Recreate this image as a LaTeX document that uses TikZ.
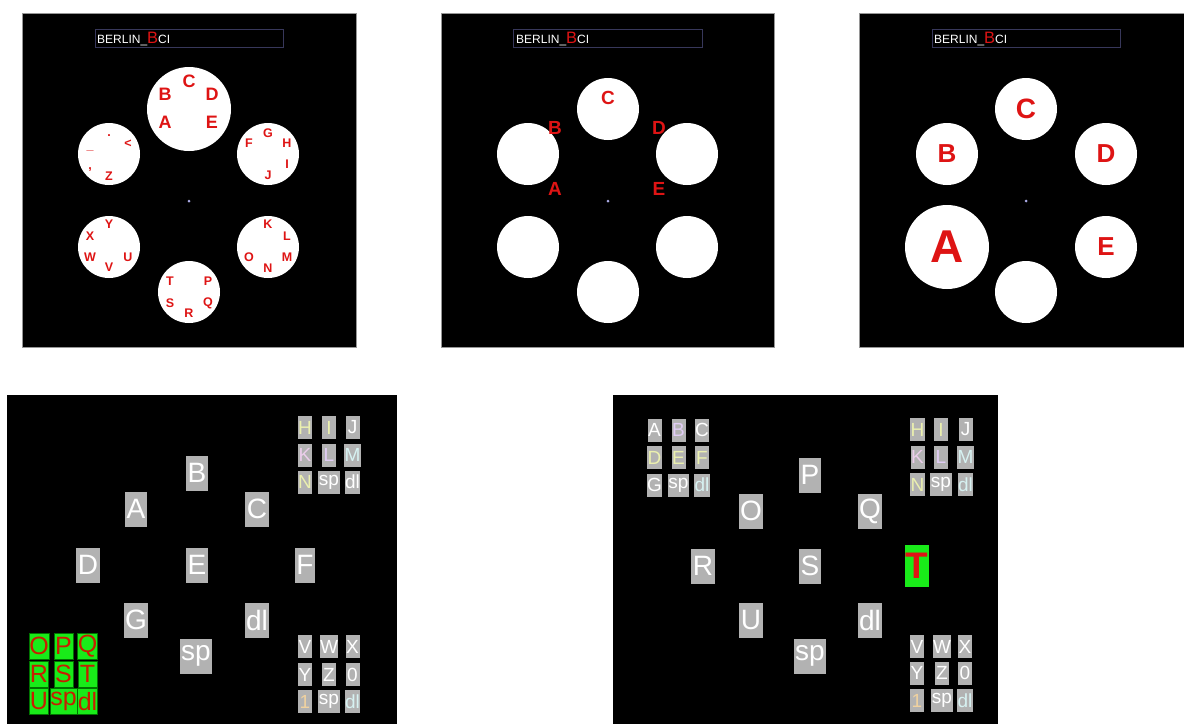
\documentclass[tikz,border=0pt]{standalone}
\usepackage{fontspec}
\setmainfont{Liberation Sans}
\newcommand\fsz[1]{\fontsize{#1}{#1}\selectfont}
\definecolor{keygray}{RGB}{178,178,178}
\definecolor{hexred}{RGB}{222,20,20}
\definecolor{barblue}{RGB}{55,55,90}
\definecolor{keygreen}{RGB}{25,235,25}
\definecolor{greentext}{RGB}{200,30,0}
\definecolor{dotblue}{RGB}{170,170,230}
\definecolor{framegray}{RGB}{150,150,150}
\definecolor{tyel}{RGB}{235,240,175}
\definecolor{tpink}{RGB}{235,205,235}
\definecolor{tlav}{RGB}{225,205,245}
\definecolor{tcyan}{RGB}{215,242,242}
\definecolor{torange}{RGB}{240,210,160}
\begin{document}
\begin{tikzpicture}[x=1pt,y=-1pt,
  panel/.style={fill=black,draw=framegray,line width=0.6pt},
  titlebar/.style={draw=barblue,line width=0.8pt},
  disc/.style={circle,fill=white,inner sep=0pt,minimum size=62pt},
  bigdisc/.style={circle,fill=white,inner sep=0pt,minimum size=84pt},
  fixdot/.style={circle,fill=dotblue,inner sep=0pt,minimum size=3pt},
  hexlet/.style={text=hexred,inner sep=0pt,font=\bfseries\fsz{#1}},
  titletext/.style={anchor=base west,inner sep=0pt,text=white,font=\fsz{12}},
  bigkey/.style={fill=keygray,text=white,font=\fsz{28},minimum height=35pt,inner xsep=1.5pt,inner ysep=0pt},
  smallkey/.style={fill=keygray,text=#1,font=\fsz{19},minimum width=14pt,minimum height=23pt,inner xsep=0.5pt,inner ysep=0pt},
  smallkey/.default=white,
  greenkey/.style={fill=keygreen,draw=green!45!black,line width=0.4pt,text=greentext,font=\fsz{25},minimum width=19pt,minimum height=26pt,inner xsep=0.3pt,inner ysep=0pt},
  targetkey/.style={fill=keygreen,text=hexred,font=\bfseries\fsz{37},minimum width=24pt,minimum height=42pt,inner xsep=0.5pt,inner ysep=0pt}
]
\fill[white] (0,0) rectangle (1184,724);
\useasboundingbox (0,0) rectangle (1184,724);

% ---------- top panels ----------
\draw[panel] (22,13) rectangle (356,347);
\draw[panel] (441,13) rectangle (774,347);
\draw[panel] (859,13) rectangle (1184,347);

\draw[titlebar] (95,29) rectangle (283,47);
\draw[titlebar] (513,29) rectangle (702,47);
\draw[titlebar] (932,29) rectangle (1120,47);
\node[titletext] (t1) at (97,43) {BERLIN\_{\color{hexred}\fsz{16.5}B}CI};
\node[titletext] (t2) at (516,43) {BERLIN\_{\color{hexred}\fsz{16.5}B}CI};
\node[titletext] (t3) at (934,43) {BERLIN\_{\color{hexred}\fsz{16.5}B}CI};

% panel 1
\node[bigdisc] (a1) at (189,109) {};
\node[disc] (a2) at (268,154) {};
\node[disc] (a3) at (268,247) {};
\node[disc] (a4) at (189,292) {};
\node[disc] (a5) at (109,247) {};
\node[disc] (a6) at (109,154) {};
\node[fixdot] (ad) at (189,201) {};
\foreach \t/\x/\y/\n in {C/189/81/c,B/165/94/b,D/212/94/d,A/165/122/a,E/212/122/e}
  \node[hexlet=18] (a1\n) at (\x,\y) {\t};
\foreach \t/\x/\y/\n in {F/249/143/f,G/268/133/g,H/287/143/h,I/287/164/i,J/268/175/j,
  K/268/224/k,L/287/236/l,M/287/257/m,N/268/268/n,O/249/257/o,
  P/208/281/p,Q/208/303/q,R/189/313/r,S/170/303/s,T/170/281/t,
  U/128/257/u,V/109/267/v,W/90/257/w,X/90/236/x,Y/109/224/y,
  Z/109/176/z,</128/144/lt,./109/136/dot,{,}/90/170/comma}
  \node[hexlet=12.5] (a1\n) at (\x,\y) {\t};
\node[hexlet=12.5] (a1us) at (90,150) {\_};

% panel 2
\node[disc] (b1) at (608,109) {};
\node[disc] (b2) at (687,154) {};
\node[disc] (b3) at (687,247) {};
\node[disc] (b4) at (608,292) {};
\node[disc] (b5) at (528,247) {};
\node[disc] (b6) at (528,154) {};
\node[fixdot] (bd) at (608,201) {};
\foreach \t/\x/\y/\n in {C/608/98/c,B/555/128/b,D/659/128/d,A/555/189/a,E/659/189/e}
  \node[hexlet=19] (b\n) at (\x,\y) {\t};

% panel 3
\node[disc] (c1) at (1026,109) {};
\node[disc] (c2) at (1106,154) {};
\node[disc] (c3) at (1106,247) {};
\node[disc] (c4) at (1026,292) {};
\node[bigdisc] (c5) at (947,247) {};
\node[disc] (c6) at (947,154) {};
\node[fixdot] (cd) at (1026,201) {};
\node[hexlet=28] (cc) at (c1) {C};
\node[hexlet=26] (cdl) at (c2) {D};
\node[hexlet=26] (ce) at (c3) {E};
\node[hexlet=46] (ca) at (c5) {A};
\node[hexlet=26] (cb) at (c6) {B};

% ---------- bottom panels ----------
\fill[black] (7,395) rectangle (397,724);
\fill[black] (613,395) rectangle (998,724);

% panel 4
\foreach \t/\x/\y/\n in {B/197/473/b,A/136/509/a,C/257/509/c,D/88/565/d,E/197/565/e,F/305/565/f,G/136/620/g,dl/257/620/dl,sp/196/656/sp}
  \node[bigkey] (d\n) at (\x,\y) {\t};
\foreach \t/\x/\y/\n/\c in {H/305/427.5/h/tyel,I/329/427.5/i/tyel,J/352.5/427.5/j/white,
  K/305/455/k/tpink,L/329/455/l/tlav,M/352.5/455/m/tcyan,
  N/305/482/n/tyel,sp/329/482/sp1/white,dl/352.5/482/dl1/white,
  V/305/646.5/v/white,W/329/646.5/w/white,X/352.5/646.5/x/white,
  Y/305/674.5/y/white,Z/329/674.5/z/white,0/352.5/674.5/zero/white,
  1/305/701.5/one/torange,sp/329/701.5/sp2/white,dl/352.5/701.5/dl2/tcyan}
  \node[smallkey=\c] (ds\n) at (\x,\y) {\t};
\foreach \t/\x/\y/\n in {O/39/646/o,P/63.5/646/p,Q/87.5/646/q,R/39/674/r,S/63.5/674/s,T/87.5/674/t,U/39/701.5/u,sp/63.5/701.5/sp,dl/87.5/701.5/dl}
  \node[greenkey] (dg\n) at (\x,\y) {\t};

% panel 5
\foreach \t/\x/\y/\n in {P/810/475/p,O/751/511/o,Q/870/511/q,R/703/566/r,S/810/566/s,U/751/620/u,dl/870/620/dl,sp/810/656/sp}
  \node[bigkey] (e\n) at (\x,\y) {\t};
\node[targetkey] (et) at (917,566) {T};
\foreach \t/\x/\y/\n/\c in {A/654.5/430/a/white,B/678.5/430/b/tlav,C/702/430/c/white,
  D/654.5/457.5/d/tyel,E/678.5/457.5/e/tyel,F/702/457.5/f/tyel,
  G/654.5/485/g/white,sp/678.5/485/sp0/white,dl/702/485/dl0/tcyan,
  H/917.5/429.5/h/tyel,I/941/429.5/i/tyel,J/965.5/429.5/j/white,
  K/917.5/457/k/tpink,L/941/457/l/tlav,M/965.5/457/m/tcyan,
  N/917.5/484.5/n/tyel,sp/941/484.5/sp1/white,dl/965.5/484.5/dl1/tcyan,
  V/917/646.7/v/white,W/942/646.7/w/white,X/965/646.7/x/white,
  Y/917/673/y/white,Z/942/673/z/white,0/965/673/zero/white,
  1/917/700.5/one/torange,sp/942/700.5/sp2/white,dl/965/700.5/dl2/tcyan}
  \node[smallkey=\c] (es\n) at (\x,\y) {\t};
\end{tikzpicture}
\end{document}
